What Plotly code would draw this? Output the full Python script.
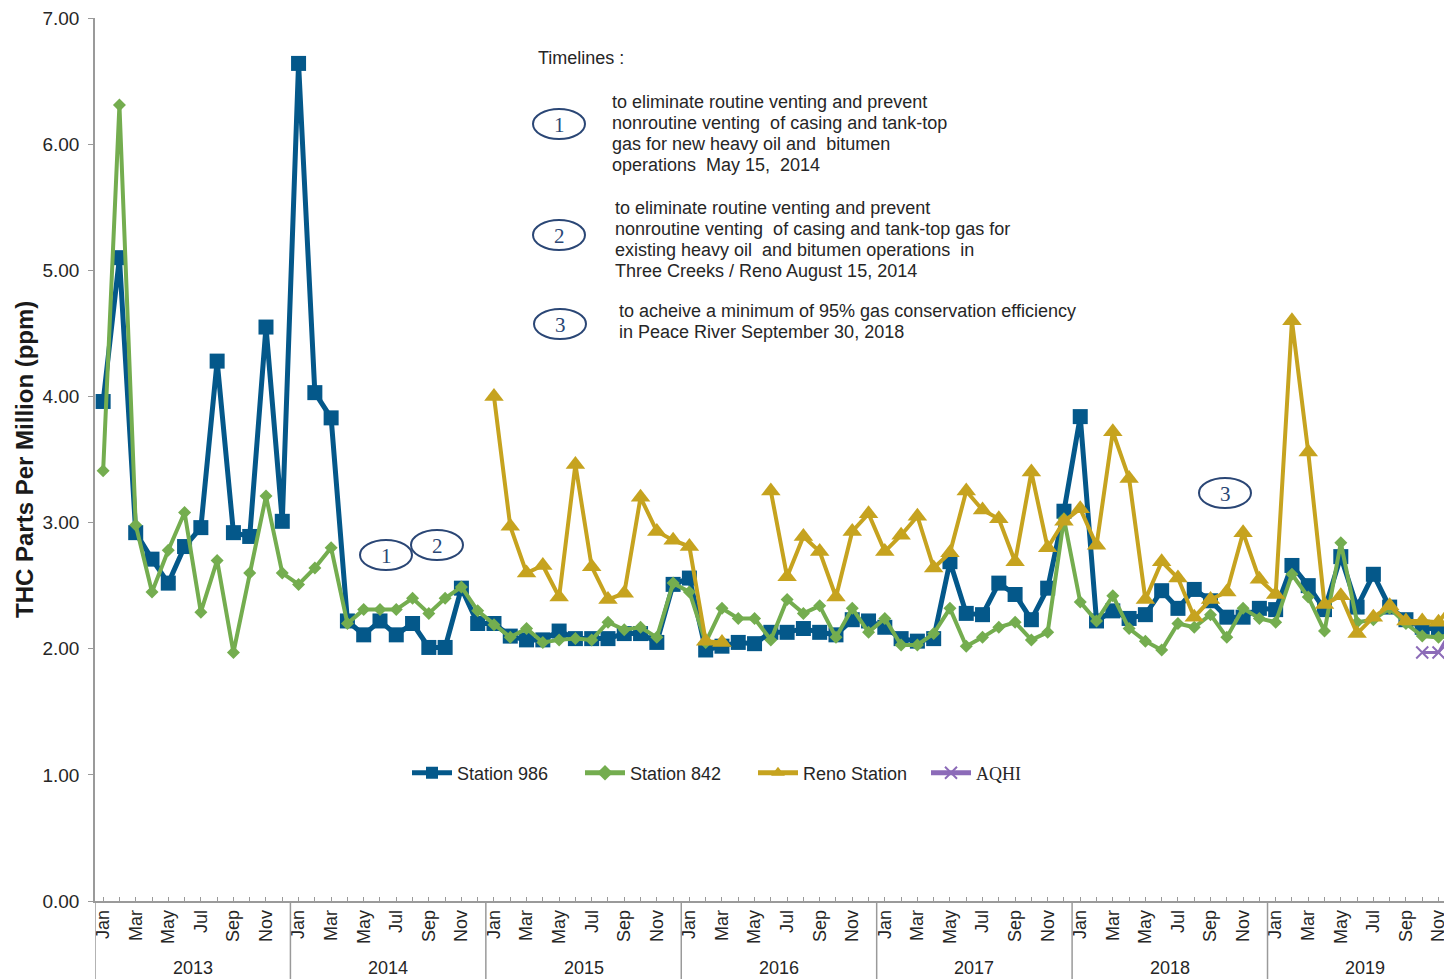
import plotly.graph_objects as go

# ---------------- data ----------------
YEARS = [2013, 2014, 2015, 2016, 2017, 2018, 2019]
MONTH_LABELS = ["Jan", "", "Mar", "", "May", "", "Jul", "", "Sep", "", "Nov", ""]

station_986 = [
    # 2013
    3.96, 5.10, 2.92, 2.71, 2.52, 2.81, 2.96, 4.28, 2.92, 2.89, 4.55, 3.01,
    # 2014
    6.64, 4.03, 3.83, 2.22, 2.11, 2.22, 2.11, 2.20, 2.01, 2.01, 2.48, 2.20,
    # 2015
    2.20, 2.10, 2.07, 2.07, 2.14, 2.08, 2.08, 2.08, 2.12, 2.12, 2.05, 2.51,
    # 2016
    2.56, 1.99, 2.02, 2.05, 2.04, 2.13, 2.13, 2.16, 2.13, 2.11, 2.23, 2.22,
    # 2017
    2.17, 2.08, 2.06, 2.08, 2.69, 2.28, 2.27, 2.52, 2.43, 2.23, 2.48, 3.09,
    # 2018
    3.84, 2.22, 2.30, 2.24, 2.27, 2.46, 2.32, 2.47, 2.38, 2.25, 2.25, 2.32,
    # 2019
    2.31, 2.66, 2.50, 2.31, 2.73, 2.33, 2.59, 2.33, 2.23, 2.17, 2.15, 2.19,
]

station_842 = [
    # 2013
    3.41, 6.31, 2.98, 2.45, 2.78, 3.08, 2.29, 2.70, 1.97, 2.60, 3.21, 2.60,
    # 2014
    2.51, 2.64, 2.80, 2.20, 2.31, 2.31, 2.31, 2.40, 2.28, 2.40, 2.49, 2.30,
    # 2015
    2.19, 2.09, 2.16, 2.05, 2.07, 2.08, 2.07, 2.21, 2.15, 2.17, 2.09, 2.52,
    # 2016
    2.45, 2.05, 2.32, 2.24, 2.24, 2.07, 2.39, 2.28, 2.34, 2.09, 2.32, 2.13,
    # 2017
    2.24, 2.03, 2.03, 2.12, 2.32, 2.02, 2.09, 2.17, 2.21, 2.07, 2.13, 3.03,
    # 2018
    2.37, 2.22, 2.42, 2.16, 2.06, 1.99, 2.20, 2.17, 2.27, 2.09, 2.32, 2.24,
    # 2019
    2.21, 2.59, 2.41, 2.14, 2.84, 2.21, 2.23, 2.32, 2.20, 2.10, 2.09, 2.12,
]

reno_station = [
    # 2013
    None, None, None, None, None, None, None, None, None, None, None, None,
    # 2014
    None, None, None, None, None, None, None, None, None, None, None, None,
    # 2015
    4.00, 2.97, 2.60, 2.66, 2.41, 3.46, 2.65, 2.39, 2.44, 3.20, 2.93, 2.86,
    # 2016
    2.81, 2.06, 2.05, None, None, 3.25, 2.57, 2.89, 2.77, 2.41, 2.93, 3.07,
    # 2017
    2.77, 2.90, 3.05, 2.64, 2.76, 3.25, 3.10, 3.03, 2.69, 3.40, 2.80, 3.01,
    # 2018
    3.11, 2.82, 3.72, 3.35, 2.39, 2.69, 2.56, 2.25, 2.39, 2.45, 2.92, 2.55,
    # 2019
    2.43, 4.60, 3.56, 2.35, 2.42, 2.12, 2.25, 2.34, 2.22, 2.22, 2.21, 2.38,
]

aqhi = [None] * 81 + [1.97, 1.97, 2.20]

SERIES = [
    ("Station 986", station_986, "#04588a", "square", 15, 5),
    ("Station 842", station_842, "#74ad4f", "diamond", 10, 4),
    ("Reno Station", reno_station, "#c6a31f", "triangle-up", 17, 4),
    ('<span style="font-family:Liberation Serif, Times New Roman, serif">AQHI</span>',
     aqhi, "#8c6bb8", "x-thin", 12, 3),
]

# ---------------- layout helpers ----------------
# The page body has an 8px margin, so the figure sits at (8, 8) in the window.
OFF = 8
WIN_W, WIN_H = 1452, 979
W, H = WIN_W - OFF, WIN_H - OFF
PLOT_L, PLOT_T, PLOT_B = 95, 18, 901          # window pixels
ML, MT, MR = PLOT_L - OFF, PLOT_T - OFF, 0
MB = WIN_H - PLOT_B
PW, PH = WIN_W - PLOT_L, PLOT_B - PLOT_T


def px(xp):
    return (xp - PLOT_L) / PW


def py(yp):
    return (PLOT_B - yp) / PH


n_months = len(YEARS) * 12
x_idx = list(range(n_months))
tick_text = [MONTH_LABELS[i % 12] for i in x_idx]

FONT = "Liberation Sans, Arial, sans-serif"
TEXT_COL = "#262626"
AXIS_COL = "#9a9a9a"
NAVY = "#2a4675"
MONTH_PX = 16.285

fig = go.Figure()
for name, vals, col, sym, size, lw in SERIES:
    mk = dict(symbol=sym, size=size, color=col, line=dict(width=0))
    if sym == "x-thin":
        mk = dict(symbol=sym, size=size, color=col, line=dict(width=2, color=col))
    fig.add_trace(go.Scatter(
        x=x_idx, y=vals, name=name, mode="lines+markers",
        line=dict(color=col, width=lw), marker=mk, connectgaps=False,
    ))

shapes = []
annotations = []

# year separators below the axis
for k in range(len(YEARS) + 1):
    shapes.append(dict(type="line", xref="x", yref="paper",
                       x0=k * 12 - 0.5, x1=k * 12 - 0.5, y0=0, y1=-0.1,
                       line=dict(color=AXIS_COL, width=1.5)))
# year labels
for k, yr in enumerate(YEARS):
    annotations.append(dict(xref="x", yref="paper", x=k * 12 + 5.5, y=py(968),
                            text=str(yr), showarrow=False,
                            font=dict(family=FONT, size=18, color=TEXT_COL),
                            xanchor="center", yanchor="middle"))

# y-axis title
annotations.append(dict(xref="paper", yref="paper", x=px(24), y=py(460),
                        text="<b>THC Parts Per Million (ppm)</b>", textangle=-90,
                        showarrow=False, font=dict(family=FONT, size=24, color="#1a1a1a"),
                        xanchor="center", yanchor="middle"))


def ellipse(cx, cy, label, w=52, h=30):
    shapes.append(dict(type="circle", xref="paper", yref="paper",
                       x0=px(cx - w / 2), x1=px(cx + w / 2),
                       y0=py(cy + h / 2), y1=py(cy - h / 2),
                       line=dict(color=NAVY, width=2)))
    annotations.append(dict(xref="paper", yref="paper", x=px(cx), y=py(cy + 1),
                            text=label, showarrow=False,
                            font=dict(family="Liberation Serif, Times New Roman, serif",
                                      size=21, color=NAVY),
                            xanchor="center", yanchor="middle"))


ellipse(559, 124, "1")
ellipse(559, 235, "2")
ellipse(560, 324, "3")
ellipse(386, 555, "1")
ellipse(437, 545, "2")
ellipse(1225, 493, "3")

TEXT_BLOCKS = [
    (536, 58, ["Timelines :"]),
    (610, 102, ["to eliminate routine venting and prevent",
                "nonroutine venting  of casing and tank-top",
                "gas for new heavy oil and  bitumen",
                "operations  May 15,  2014"]),
    (613, 208, ["to eliminate routine venting and prevent",
                "nonroutine venting  of casing and tank-top gas for",
                "existing heavy oil  and bitumen operations  in",
                "Three Creeks / Reno August 15, 2014"]),
    (617, 311, ["to acheive a minimum of 95% gas conservation efficiency",
                "in Peace River September 30, 2018"]),
]
for x0, y0, lines in TEXT_BLOCKS:
    for i, t in enumerate(lines):
        annotations.append(dict(xref="paper", yref="paper", x=px(x0), y=py(y0 + i * 21),
                                text=t, showarrow=False,
                                font=dict(family=FONT, size=18, color=TEXT_COL),
                                xanchor="left", yanchor="middle"))

fig.update_layout(
    width=W, height=H,
    margin=dict(l=ML, r=MR, t=MT, b=MB, pad=0),
    paper_bgcolor="white", plot_bgcolor="white",
    font=dict(family=FONT, color=TEXT_COL),
    showlegend=True,
    legend=dict(orientation="h", x=px(407), y=py(773), xanchor="left", yanchor="middle",
                font=dict(family=FONT, size=18, color=TEXT_COL),
                itemwidth=40, entrywidth=118, entrywidthmode="pixels",
                itemsizing="constant", bgcolor="rgba(0,0,0,0)", tracegroupgap=0),
    shapes=shapes,
    annotations=annotations,
    xaxis=dict(
        range=[-0.5, PW / MONTH_PX - 0.5],
        tickmode="array", tickvals=x_idx, ticktext=tick_text,
        tickangle=-90, ticks="inside", ticklen=4, tickcolor=AXIS_COL,
        tickfont=dict(family=FONT, size=18, color=TEXT_COL),
        showline=True, linecolor=AXIS_COL, linewidth=1.5,
        showgrid=False, zeroline=False,
    ),
    yaxis=dict(
        range=[0, 7], dtick=1, tickformat=".2f",
        ticks="outside", ticklen=5, tickcolor=AXIS_COL,
        tickfont=dict(family=FONT, size=19, color=TEXT_COL),
        ticklabelstandoff=5, ticklabeloverflow="allow",
        showline=True, linecolor=AXIS_COL, linewidth=1.5,
        showgrid=False, zeroline=False,
    ),
)

fig.write_html("out.html")
